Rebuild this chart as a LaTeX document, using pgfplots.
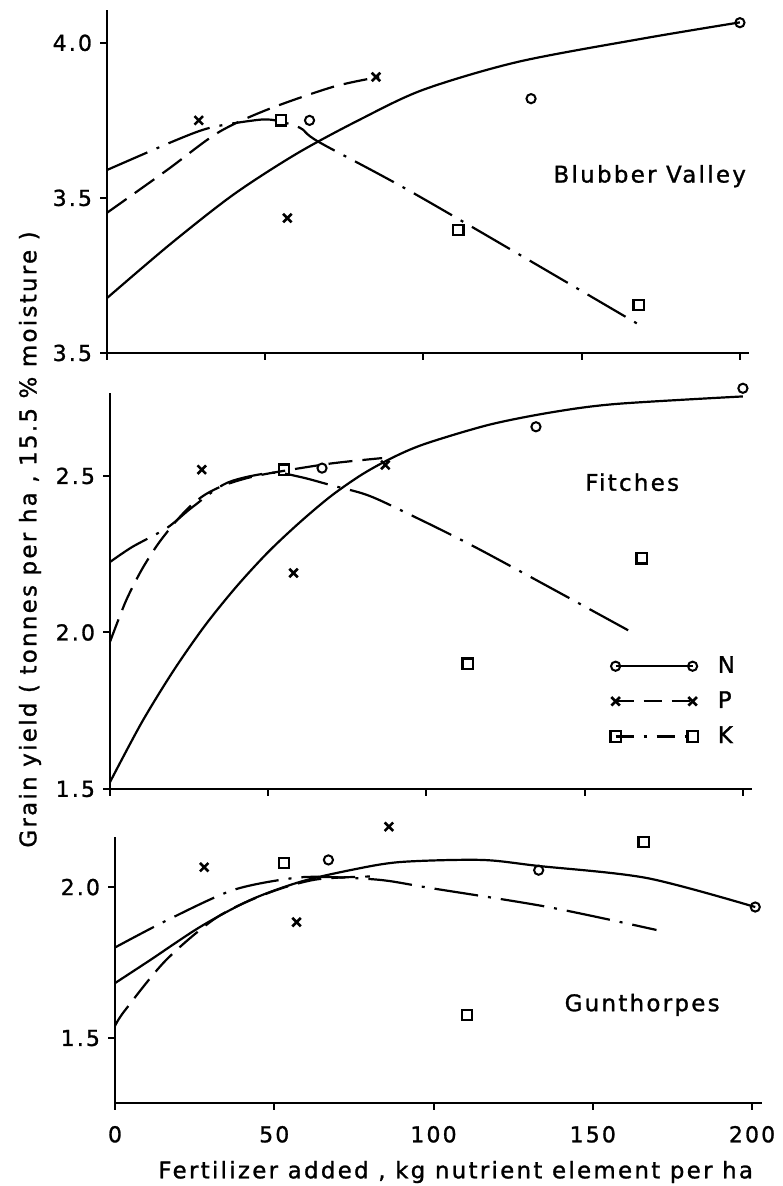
\documentclass[border=0pt]{standalone}
\usepackage{pgfplots}
\pgfplotsset{compat=1.18}
\usepackage{fontspec}
\setmainfont{DejaVu Sans}[LetterSpace=10, FakeBold=1.2]
\begin{document}
\fontsize{11.5}{13.8}\selectfont
\begin{tikzpicture}[x=1bp,y=1bp]
\path (0,0) rectangle (382.5,593);
\pgfplotsset{
 panel/.style={
  scale only axis, xmin=0, xmax=203,
  axis x line*=bottom, axis y line*=left,
  axis line style={line width=1.4bp,-},
  x axis line style={-}, y axis line style={-},
  tick align=outside, major tick length=3.5bp,
  tick style={line width=1bp, black},
  clip=false,
  xtick={0,50,100,150,200},
  ticklabel style={font=\fontsize{11}{13}\selectfont},
  /pgf/number format/assume math mode=true,
  legend image code/.code={\draw[##1] plot coordinates {(0bp,0bp) (38.5bp,0bp)};},
 },
 Nc/.style={black, line width=1.1bp, solid, smooth},
 Pc/.style={black, line width=1.1bp, dash pattern=on 12bp off 5bp, smooth},
 Kc/.style={black, line width=1.1bp, dash pattern=on 22bp off 5bp on 1.5bp off 5bp, smooth},
 Nm/.style={only marks, mark=o, mark size=2.3bp, mark options={line width=1bp, solid, black}},
 Pm/.style={only marks, mark=x, mark size=3bp, mark options={line width=1.3bp, solid, black}},
 Km/.style={only marks, mark=square, mark size=2.6bp, mark options={line width=1.1bp, solid, black}},
}
% ---------------- Blubber Valley ----------------
\begin{axis}[panel, at={(53.5bp,416.5bp)}, anchor=south west,
  width=321.2bp, height=171.5bp, ymin=3.0, ymax=4.106,
  ytick={3.0,3.5,4.0}, yticklabels={3.5,3.5,4.0}, xticklabels={}]
\addplot[Nc, forget plot] coordinates {(0,3.177) (20,3.351) (40,3.511) (60,3.643) (80,3.753) (100,3.849) (130,3.939) (170,4.015) (200,4.066)};
\addplot[Pc, forget plot] coordinates {(0,3.452) (19,3.59) (35,3.71) (50.5,3.784) (71.4,3.858) (86,3.89)};
\addplot[Kc, forget plot] coordinates {(0,3.59) (22,3.687) (32.5,3.726) (45,3.748) (52,3.752) (61,3.726) (67,3.68) (99,3.503) (170,3.08)};
\addplot[Nm, forget plot] coordinates {(64,3.75) (134,3.82) (200,4.065)};
\addplot[Pm, forget plot] coordinates {(29,3.75) (57,3.435) (85,3.89)};
\addplot[Km, forget plot] coordinates {(55,3.75) (111,3.397) (168,3.155)};
\node at (axis cs:171.5,3.57) {Blubber Valley};
\end{axis}
% ---------------- Fitches ----------------
\begin{axis}[panel, at={(55bp,198.5bp)}, anchor=south west,
  width=321.2bp, height=198bp, ymin=1.5, ymax=2.765,
  ytick={1.5,2.0,2.5}, yticklabels={1.5,2.0,2.5}, xticklabels={},
  legend style={at={(axis cs:158,1.78)}, anchor=west, draw=none, fill=none,
    inner sep=0pt, row sep=3.5bp, font=\fontsize{11.5}{13.8}\selectfont,
    /tikz/every odd column/.append style={column sep=8bp}},
  legend cell align=left]
\addplot[Nc, forget plot] coordinates {(0,1.522) (10,1.712) (20,1.877) (30,2.022) (40,2.147) (50,2.257) (60,2.352) (70,2.437) (80,2.507) (90,2.562) (100,2.604) (120,2.664) (140,2.704) (160,2.73) (200,2.754)};
\addplot[Pc, forget plot] coordinates {(0,1.97) (5,2.10) (10,2.2) (15,2.28) (20,2.345) (25,2.40) (30,2.44) (36,2.47) (44,2.495) (53,2.513) (70,2.54) (86,2.557)};
\addplot[Kc, forget plot] coordinates {(0,2.225) (7,2.273) (18,2.334) (26,2.40) (37,2.478) (51,2.51) (60,2.497) (70,2.47) (81,2.44) (92,2.39) (117,2.264) (165,2.0)};
\addplot[Nm, forget plot] coordinates {(67,2.525) (134.6,2.657) (200,2.78)};
\addplot[Pm, forget plot] coordinates {(29,2.52) (58,2.19) (87,2.535)};
\addplot[Km, forget plot] coordinates {(55,2.52) (113,1.90) (168,2.237)};
\addlegendimage{black, line width=1.1bp, solid, mark=o, mark size=2.3bp, mark options={line width=1bp, solid}}
\addlegendentry{N}
\addlegendimage{black, line width=1.1bp, dash pattern=on 9bp off 5bp, mark=x, mark size=3bp, mark options={line width=1.3bp, solid}}
\addlegendentry{P}
\addlegendimage{black, line width=1.1bp, dash pattern=on 9bp off 5bp on 1.5bp off 5bp, mark=square, mark size=2.6bp, mark options={line width=1.1bp, solid}}
\addlegendentry{K}
\node at (axis cs:165,2.48) {Fitches};
\end{axis}
% ---------------- Gunthorpes ----------------
\begin{axis}[panel, at={(57.5bp,41.5bp)}, anchor=south west,
  width=323.3bp, height=133bp, ymin=1.285, ymax=2.166,
  ytick={1.5,2.0}, yticklabels={1.5,2.0},
  xticklabels={0,50,100,150,200}, xticklabel style={yshift=-4bp}]
\addplot[Nc, forget plot] coordinates {(0,1.682) (11,1.758) (26.7,1.868) (42.4,1.957) (58,2.017) (73.8,2.056) (89.5,2.083) (115,2.09) (133,2.07) (167,2.03) (201,1.934)};
\addplot[Pc, forget plot] coordinates {(0,1.54) (3,1.59) (16,1.758) (32,1.90) (48,1.98) (63,2.025) (80,2.035)};
\addplot[Kc, forget plot] coordinates {(0,1.80) (16.3,1.89) (37,1.99) (56,2.03) (68,2.033) (84,2.023) (99,1.997) (136,1.934) (170,1.858)};
\addplot[Nm, forget plot] coordinates {(67,2.09) (133,2.056) (201,1.934)};
\addplot[Pm, forget plot] coordinates {(28,2.066) (57,1.884) (86,2.2)};
\addplot[Km, forget plot] coordinates {(53,2.08) (110.5,1.576) (166,2.15)};
\node at (axis cs:165.5,1.61) {Gunthorpes};
\end{axis}
\node[rotate=90, anchor=west, inner sep=0pt] at (15,169) {Grain yield ( tonnes per ha , 15.5 \% moisture )};
\node[anchor=west, inner sep=0pt] at (79,7) {\spaceskip=0.42em\relax Fertilizer added , kg nutrient element per ha};
\end{tikzpicture}
\end{document}
